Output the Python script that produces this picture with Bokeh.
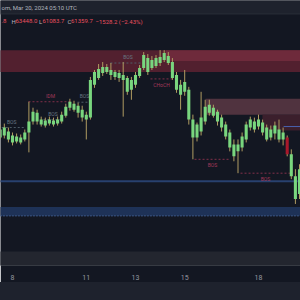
import numpy as np
from bokeh.plotting import figure
from bokeh.models import FixedTicker, Label, ColumnDataSource, Range1d, Spacer
from bokeh.layouts import column
from bokeh.embed import file_html
from bokeh.resources import INLINE
from bokeh.core.properties import value

# ---------------- data (BTC 4h candles, March 2024) ----------------
start_day = 7.5          # Mar 7, 12:00 UTC (day-of-month units)
step_day = 4 / 24        # 4-hour candles
opens = [66360, 67160, 66840, 66520, 66040, 66360, 66200, 66760, 67640, 68360,
         67800, 67320, 67800, 67400, 67480, 67640, 68120, 68760, 69080, 68920,
         68600, 67800, 67960, 70600, 71160, 71560, 72040, 71800, 71640, 71160,
         71400, 71160, 70200, 70600, 71320, 71960, 72760, 71960, 72120, 72360,
         72600, 72920, 72440, 71400, 70600, 70040, 70200, 67800, 66360, 66840,
         67640, 68360, 68760, 68440, 67960, 67400, 66760, 65800, 65240, 65560,
         66200, 67160, 67640, 67240, 67560, 67160, 66360, 66680, 67000, 66200,
         66360, 65000, 63240, 61800]
highs = [67400, 67480, 67160, 66760, 66680, 66600, 67000, 69240, 68760, 68600,
         68040, 67960, 68040, 67960, 68040, 68440, 69080, 69480, 69320, 69160,
         68920, 68440, 71240, 71800, 72280, 72440, 72280, 72360, 71800, 71800,
         72440, 71320, 71240, 71640, 72200, 73240, 73080, 72920, 73000, 73400,
         73400, 73240, 72760, 71640, 71000, 71800, 70440, 68200, 67560, 70040,
         69400, 69400, 69000, 68600, 68200, 67640, 67000, 66200, 66200, 66760,
         67640, 68040, 67960, 68200, 67800, 67400, 67320, 67640, 67800, 67160,
         66520, 65400, 63800, 64200]
lows = [66200, 66280, 65960, 65720, 65880, 65800, 66040, 65160, 67400, 67400,
        67240, 67160, 67320, 67240, 67320, 67480, 67960, 68520, 68440, 67960,
        67640, 66200, 67800, 70360, 71000, 71320, 71480, 71000, 71000, 70840,
        68040, 69800, 69400, 70360, 71160, 71800, 71400, 71800, 71960, 72120,
        72440, 72200, 71000, 69960, 68600, 69720, 67400, 64600, 66040, 66520,
        67400, 68120, 67960, 67320, 66840, 66200, 65240, 64440, 63480, 65240,
        65960, 66920, 66760, 67000, 66520, 66040, 66120, 66200, 65960, 65720,
        64840, 63000, 61000, 61400]
closes = [67000, 66520, 66200, 65960, 66440, 65960, 66760, 67640, 68440, 67640,
          67400, 67720, 67480, 67720, 67800, 68200, 68840, 69240, 68600, 68360,
          67960, 68200, 71000, 71640, 71880, 72040, 71640, 71400, 71240, 71560,
          71000, 70040, 71000, 71400, 71960, 73000, 71640, 72600, 72760, 72840,
          73160, 72360, 71160, 70200, 69800, 70840, 67800, 66360, 67400, 67960,
          68840, 69000, 68120, 67640, 67160, 66440, 65560, 64840, 65800, 66440,
          67400, 67800, 67000, 67800, 66760, 66200, 67000, 67320, 66200, 66760,
          65000, 63240, 61400, 63800]
highlight_index = 70     # candle marked red by the indicator

tick_days = [8, 11, 13, 15, 18]
tick_labels = ["8", "11", "13", "15", "18"]

# structure breaks (day start, day end, price level, label, bullish?)
struct_start = [7.40, 8.65, 9.26, 10.64, 11.98, 13.61, 15.40, 17.27]
struct_end = [8.53, 10.44, 10.03, 11.21, 13.41, 14.50, 16.86, 19.30]
struct_price = [67160, 69240, 67800, 69200, 72360, 71080, 64600, 63480]
struct_text = ["BOS", "IDM", "BOS", "BOS", "BOS", "CHoCH", "BOS", "BOS"]
struct_bull = [True, False, True, True, True, False, False, False]
struct_label_above = [True, True, True, True, True, False, False, False]

# zones (start day, end day, top price, bottom price, kind)
zone_start = [7.40, 14.22, 15.85, 18.16, 7.40, 7.40]
zone_end = [20.50, 20.50, 20.50, 20.50, 20.50, 20.50]
zone_top = [73400, 73400, 69480, 68200, 62920, 60760]
zone_bottom = [71640, 72520, 68200, 66920, 62760, 60040]
zone_kind = ["supply", "supply_fresh", "supply_weak", "supply_dark", "demand_line", "demand"]

blue_level_price = 67240
blue_level_start = 19.02
demand_edge_price = 60040

ohlc_parts = [".8", "H", "63448.0", "L", "61083.7", "C", "61359.7", "\u22121528.2 (\u22122.43%)"]
header_text = "om, Mar 20, 2024 05:10 UTC"

# ---------------- layout mapping ----------------
W, FRAME_H = 300, 267
PX_PER_DAY = 24.6
X0 = 8 - 12 / PX_PER_DAY
X1 = X0 + W / PX_PER_DAY
Y_TOP = 77400
Y_BOT = Y_TOP - 80 * FRAME_H


def px_x(x):
    return X0 + x * (X1 - X0) / W


def px_y(y):
    return Y_TOP - y * (Y_TOP - Y_BOT) / FRAME_H


BG = "#131722"
p = figure(width=W, height=282, x_range=Range1d(X0, X1), y_range=Range1d(Y_BOT, Y_TOP),
           y_axis_location=None, toolbar_location=None, output_backend="svg",
           min_border_left=0, min_border_right=0, min_border_top=0, min_border_bottom=15,
           background_fill_color=BG, border_fill_color=BG, outline_line_color=None)
p.xgrid.grid_line_color = None
p.ygrid.grid_line_color = None

# zones
zone_colors = {"supply": "#52202f", "supply_fresh": "#6e2a3b", "supply_weak": "#50333f",
               "supply_dark": "#3b1f2c", "demand_line": "#28416f", "demand": "#1e3257"}
zsrc = ColumnDataSource(dict(left=zone_start, right=zone_end, top=zone_top, bottom=zone_bottom,
                             color=[zone_colors[k] for k in zone_kind]))
p.quad(left="left", right="right", top="top", bottom="bottom", fill_color="color",
       line_color=None, source=zsrc)
p.segment(x0=[X0 - 1], x1=[X1 + 1], y0=[demand_edge_price], y1=[demand_edge_price],
          line_color="#3d5a8c", line_width=1, line_dash="2 1")
p.segment(x0=[blue_level_start], x1=[X1 + 1], y0=[blue_level_price], y1=[blue_level_price],
          line_color="#4a62b0", line_width=1)

# structure lines
s_line_col = ["#4f5d68" if b else "#82304a" for b in struct_bull]
s_text_col = ["#687884" if b else "#a3385a" for b in struct_bull]
ssrc = ColumnDataSource(dict(x0=struct_start, x1=struct_end, y=struct_price,
                             xm=[(a + b) / 2 for a, b in zip(struct_start, struct_end)],
                             text=struct_text, lc=s_line_col, tc=s_text_col,
                             yo=[-6 if a else 6 for a in struct_label_above]))
p.segment(x0="x0", x1="x1", y0="y", y1="y", line_color="lc", line_width=1,
          line_dash="2 2", source=ssrc)
p.text(x="xm", y="y", text="text", y_offset="yo", text_color="tc", text_font_size="5px",
       text_font=value("Roboto"), text_align="center", text_baseline="middle", source=ssrc)

# candles
t = start_day + step_day * np.arange(len(opens))
o = np.array(opens, float)
c = np.array(closes, float)
colors = ["#79d67e"] * len(opens)
colors[highlight_index] = "#a8182b"
csrc = ColumnDataSource(dict(t=t, high=highs, low=lows, top=np.maximum(o, c),
                             bot=np.minimum(o, c), color=colors))
p.segment(x0="t", x1="t", y0="low", y1="high", line_color="#b09c62", line_width=1, source=csrc)
p.vbar(x="t", width=0.125, top="top", bottom="bot", fill_color="color", line_color=None, source=csrc)

# chrome: header bar and bottom strip
p.quad(left=[X0 - 1], right=[X1 + 1], top=[Y_TOP + 2000], bottom=[px_y(13)],
       fill_color="#1e222d", line_color=None)
p.segment(x0=[X0 - 1], x1=[X1 + 1], y0=[px_y(13.5)], y1=[px_y(13.5)], line_color="#2c303b", line_width=1)
p.quad(left=[X0 - 1], right=[X1 + 1], top=[px_y(253)], bottom=[Y_BOT - 2000],
       fill_color="#23262f", line_color=None)

p.add_layout(Label(x=px_x(1), y=px_y(7), text=header_text, text_font_size="6px",
                   text_font="Roboto", text_color="#b2b5be", text_baseline="middle"))
part_x = [1, 11, 15, 38.5, 42, 67, 70.5, 95]
part_col = ["#e8505f", "#b2b5be", "#e8505f", "#b2b5be", "#e8505f", "#b2b5be", "#e8505f", "#e8505f"]
for txt, xx, col in zip(ohlc_parts, part_x, part_col):
    p.add_layout(Label(x=px_x(xx), y=px_y(21), text=txt, text_font_size="6px",
                       text_font="Roboto", text_color=col, text_baseline="middle"))

# x axis
ax = p.xaxis[0]
ax.ticker = FixedTicker(ticks=tick_days)
ax.major_label_overrides = {d: s for d, s in zip(tick_days, tick_labels)}
ax.axis_line_color = None
ax.major_tick_line_color = None
ax.minor_tick_line_color = None
ax.major_label_standoff = 3
ax.major_label_text_font_size = "7px"
ax.major_label_text_font = "Roboto"
ax.major_label_text_color = "#9598a1"

bottom_bar = Spacer(width=W, height=18, styles={"background-color": "#1e222d"})
layout = column(p, bottom_bar, spacing=0)

open("out.html", "w").write(file_html(layout, INLINE))
